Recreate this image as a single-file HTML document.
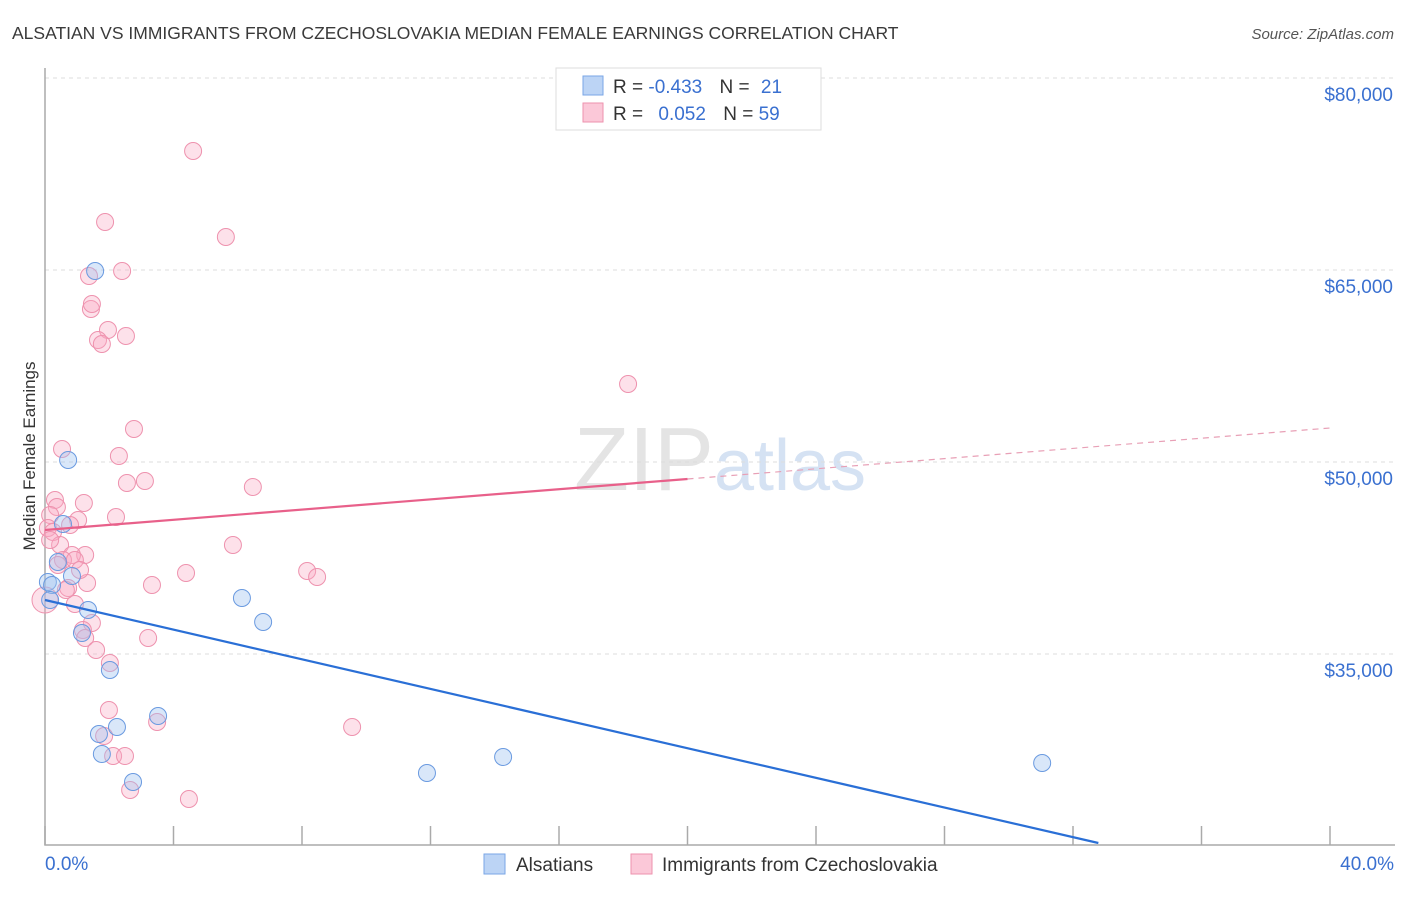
<!DOCTYPE html>
<html><head><meta charset="utf-8"><style>
body{margin:0;background:#fff;font-family:"Liberation Sans",sans-serif;}
svg text{font-family:"Liberation Sans",sans-serif;}
</style></head><body>
<svg id="chart" width="1406" height="892" xmlns="http://www.w3.org/2000/svg">
<text x="12" y="39" font-size="17.5" fill="#3a3a3a">ALSATIAN VS IMMIGRANTS FROM CZECHOSLOVAKIA MEDIAN FEMALE EARNINGS CORRELATION CHART</text>
<text x="1394" y="39" font-size="15" fill="#555" text-anchor="end" font-style="italic">Source: ZipAtlas.com</text>
<text transform="translate(35,456) rotate(-90)" font-size="17" fill="#333" text-anchor="middle">Median Female Earnings</text>
<text x="720" y="490" font-size="90" fill="#e4e4e4" text-anchor="middle" font-family="Liberation Serif">ZIP<tspan fill="#d5e2f3" font-family="Liberation Sans" font-size="72">atlas</tspan></text>
<g id="grid"></g><g id="axes"></g><g id="pts"></g><g id="lines"></g>
<g>
<rect x="556" y="68" width="265" height="62" fill="#fff" stroke="#ddd"/>
<rect x="583" y="76" width="20" height="19" fill="#bcd4f5" stroke="#7aa6e6"/>
<rect x="583" y="103" width="20" height="19" fill="#fbc8d8" stroke="#ee92ae"/>
<text x="613" y="93" font-size="19" fill="#333">R = <tspan fill="#3a70d0">-0.433</tspan>  <tspan dx="12">N = </tspan><tspan fill="#3a70d0" dx="6">21</tspan></text>
<text x="613" y="120" font-size="19" fill="#333">R = <tspan fill="#3a70d0" dx="10">0.052</tspan>  <tspan dx="12">N = </tspan><tspan fill="#3a70d0">59</tspan></text>
</g>
<g>
<rect x="484" y="854" width="21" height="20" fill="#bcd4f5" stroke="#7aa6e6"/>
<text x="516" y="871" font-size="19" fill="#333">Alsatians</text>
<rect x="631" y="854" width="21" height="20" fill="#fbc8d8" stroke="#ee92ae"/>
<text x="662" y="871" font-size="19" fill="#333">Immigrants from Czechoslovakia</text>
</g>
<text x="45" y="870" font-size="19" fill="#3a70d0">0.0%</text>
<text x="1394" y="870" font-size="19" fill="#3a70d0" text-anchor="end">40.0%</text>
</svg>
<script>
const yTicks=[35000,50000,65000,80000];
const yTickLabels=["$35,000","$50,000","$65,000","$80,000"];
const xTicks=[0,4,8,12,16,20,24,28,32,36,40];
const blueX=[1.56,0.72,0.56,0.40,0.09,0.22,0.84,1.34,1.15,2.02,6.13,6.79,3.52,2.24,1.68,1.77,2.74,11.89,14.26,31.04,0.16];
const blueY=[64922,50156,45156,42188,40625,40391,41094,38438,36641,33750,39375,37500,30156,29297,28750,27188,25000,25703,26953,26484,39219];
const pinkX=[4.61,1.87,5.63,2.40,1.37,1.43,1.46,1.96,1.65,2.52,1.77,18.15,2.77,0.53,2.30,2.55,3.11,6.47,0.31,1.21,0.37,0.16,1.03,2.21,0.09,0.25,0.47,5.85,1.25,0.84,0.56,8.16,8.47,4.39,3.33,1.31,0.72,0.93,1.46,1.18,1.25,3.21,1.59,2.02,0.00,1.99,1.84,3.49,9.56,2.12,2.49,2.65,4.48,0.65,0.40,0.93,1.09,0.16,0.78];
const pinkY=[74297,68750,67578,64922,64531,61953,62344,60313,59531,59844,59219,56094,52578,51016,50469,48359,48516,48047,47031,46797,46484,45859,45469,45703,44844,44531,43516,43516,42734,42734,42344,41484,41016,41328,40391,40547,40156,38906,37422,36875,36250,36250,35313,34297,39219,30625,28594,29688,29297,27031,27031,24375,23672,40000,41953,42344,41563,43906,45078];
const blueTrend=[39219,-579];   // intercept, slope per %
const pinkTrend=[44688,199.2];
const NS="http://www.w3.org/2000/svg";
const xs=v=>45+v*32.125;
const ys=v=>462-(v-50000)*0.0128;
function mk(t,a,p){const e=document.createElementNS(NS,t);for(const k in a)e.setAttribute(k,a[k]);p.appendChild(e);return e;}
const grid=document.getElementById('grid'),axes=document.getElementById('axes'),pts=document.getElementById('pts'),lines=document.getElementById('lines');
yTicks.forEach((v,i)=>{
 const l=mk('line',{x1:45,x2:1395,y1:ys(v),y2:ys(v),stroke:'#ddd','stroke-dasharray':'4,4'},grid);
 
 
 const t=mk('text',{x:1393,y:ys(v)+23,'font-size':19,fill:'#3a70d0','text-anchor':'end'},grid);
 t.textContent=yTickLabels[i];
 
 
});
const ax=mk('path',{d:'M45,68 V845 H1395',stroke:'#aaa',fill:'none','stroke-width':1.5},axes);


xTicks.forEach(v=>{
 const t=mk('line',{x1:xs(v),x2:xs(v),y1:826,y2:845,stroke:'#aaa','stroke-width':1.5},axes);
 
 
});
pinkX.forEach((x,i)=>{
 const c=mk('circle',{cx:xs(x),cy:ys(pinkY[i]),r:x===0?13:8.5,fill:'rgba(248,170,195,0.35)',stroke:'#ee92ae','stroke-width':1},pts);
 
 
});
blueX.forEach((x,i)=>{
 const c=mk('circle',{cx:xs(x),cy:ys(blueY[i]),r:8.5,fill:'rgba(160,195,240,0.4)',stroke:'#6a9ae0','stroke-width':1},pts);
 
 
});
const bEnd=(20234-blueTrend[0])/blueTrend[1];
const bl=mk('line',{x1:xs(0),y1:ys(blueTrend[0]),x2:xs(bEnd),y2:ys(blueTrend[0]+blueTrend[1]*bEnd),stroke:'#2a6fd6','stroke-width':2.2},lines);


const pl=mk('line',{x1:xs(0),y1:ys(pinkTrend[0]),x2:xs(20),y2:ys(pinkTrend[0]+pinkTrend[1]*20),stroke:'#e8608a','stroke-width':2.2},lines);


const pd=mk('line',{x1:xs(20),y1:ys(pinkTrend[0]+pinkTrend[1]*20),x2:xs(40),y2:ys(pinkTrend[0]+pinkTrend[1]*40),stroke:'#e8a0b6','stroke-width':1.2,'stroke-dasharray':'6,5'},lines);


</script>
</body></html>
